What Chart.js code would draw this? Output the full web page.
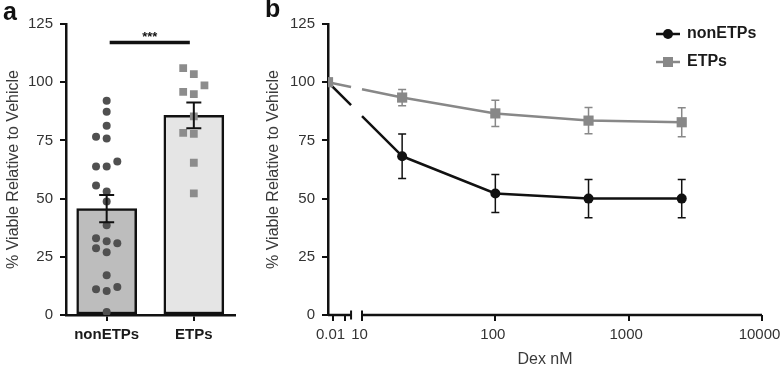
<!DOCTYPE html>
<html>
<head>
<meta charset="utf-8">
<script src="https://cdn.jsdelivr.net/npm/chart.js@4.4.1/dist/chart.umd.min.js"></script>
<style>
  html, body { margin: 0; padding: 0; background: #fff; }
  #wrap { position: relative; width: 781px; height: 370px; overflow: hidden;
          font-family: "Liberation Sans", Arial, Helvetica, sans-serif; }
  canvas { position: absolute; top: 0; }
  #panelA { left: 0; }
  #panelB { left: 240px; }
  .tag { position: absolute; font-weight: bold; font-size: 25px; line-height: 25px; color: #111; }
</style>
</head>
<body>
<div id="wrap">
  <canvas id="panelA" width="240" height="370"></canvas>
  <canvas id="panelB" width="541" height="370"></canvas>
  <div class="tag" style="left:3px;top:-1px">a</div>
  <div class="tag" style="left:265px;top:-4px">b</div>
</div>
<script>
// ---- panel a data: individual samples per group ----
var groups = ['nonETPs', 'ETPs'];
var nonEtpValues = [92, 87.3, 81.3, 76.6, 75.8, 65.9, 63.8, 63.8, 55.6, 53.1, 48.8,
                    38.5, 33, 31.7, 30.8, 28.7, 27, 17.1, 12, 11.1, 10.3, 1.3];
var etpValues = [106, 103.5, 98.6, 95.8, 94.9, 85.3, 78.2, 77.8, 65.4, 52.2];
var yTicks = [0, 25, 50, 75, 100, 125];
var sigLabel = '***';
var sigLevel = 117;

// ---- panel b data: dose response, mean and SEM ----
var doses = [0, 20, 100, 500, 2500];           // nM, 0 = vehicle
var nonEtpCurve = [100, 68.2, 52.2, 50, 50];
var nonEtpCurveSem = [0, 9.6, 8.2, 8.2, 8.2];
var etpCurve = [100, 93.4, 86.6, 83.5, 82.8];
var etpCurveSem = [0, 3.5, 5.6, 5.6, 6.2];
var doseTicks = [0.01, 0.1, 10, 100, 1000, 10000];
var doseTickLabels = ['0.01', '', '10', '100', '1000', '10000'];

// broken log axis: decades >= 10 are log10 units, the low part is squeezed before the break
var AXIS_MIN = 0.745, LOW_ORIGIN = 0.783, LOW_DECADE = 0.09;
var BREAK_FROM = 0.918, BREAK_TO = 1;

function axisPos(d) {
    if (d <= 0) return AXIS_MIN;
    if (d >= 10) return Math.log10(d);
    return LOW_ORIGIN + (Math.log10(d) + 2) * LOW_DECADE;
}

function mean(a) { return a.reduce(function(s, v) { return s + v; }, 0) / a.length; }
function sem(a) {
    var m = mean(a);
    var ss = a.reduce(function(s, v) { return s + (v - m) * (v - m); }, 0);
    return Math.sqrt(ss / (a.length - 1)) / Math.sqrt(a.length);
}

// simple column swarm so dots with close values sit side by side
function swarm(values, step) {
    var order = values.map(function(v, i) { return i; })
        .sort(function(a, b) { return values[a] - values[b]; });
    var cols = {}, out = [], tries = [0, -1, 1, -2, 2];
    order.forEach(function(i) {
        var v = values[i];
        var c = tries.find(function(k) {
            return !(cols[k] || []).some(function(u) { return Math.abs(u - v) < 3.9; });
        });
        (cols[c] = cols[c] || []).push(v);
        out[i] = c * step;
    });
    return out;
}

Chart.defaults.font.family = '"Liberation Sans", Arial, Helvetica, sans-serif';
Chart.defaults.font.size = 15;
Chart.defaults.color = '#333';
Chart.defaults.animation = false;
Chart.defaults.plugins.tooltip.enabled = false;

var errorBars = {
    id: 'errorBars',
    beforeDatasetsDraw: function(chart, args, opts) { if (opts.under) drawErrors(chart, opts); },
    afterDatasetsDraw: function(chart, args, opts) { if (!opts.under) drawErrors(chart, opts); }
};

function drawErrors(chart, opts) {
    var ctx = chart.ctx, y = chart.scales.y;
    chart.data.datasets.forEach(function(ds, di) {
        if (!ds.errorBars) return;
        var meta = chart.getDatasetMeta(di);
        meta.data.forEach(function(el, i) {
            var err = ds.errorBars[i];
            if (!err) return;
            var v = ds.data[i].y;
            var top = y.getPixelForValue(v + err), bot = y.getPixelForValue(v - err);
            ctx.save();
            ctx.strokeStyle = ds.errorColor;
            ctx.lineWidth = opts.width;
            ctx.beginPath();
            ctx.moveTo(el.x, top); ctx.lineTo(el.x, bot);
            ctx.moveTo(el.x - opts.cap, top); ctx.lineTo(el.x + opts.cap, top);
            ctx.moveTo(el.x - opts.cap, bot); ctx.lineTo(el.x + opts.cap, bot);
            ctx.stroke();
            ctx.restore();
        });
    });
}

var sigBar = {
    id: 'sigBar',
    afterDatasetsDraw: function(chart) {
        var ctx = chart.ctx, x = chart.scales.x, y = chart.scales.y;
        var yy = y.getPixelForValue(sigLevel);
        var x0 = x.getPixelForValue(0) + 3, x1 = x.getPixelForValue(1) - 4;
        ctx.save();
        ctx.strokeStyle = '#111';
        ctx.lineWidth = 3.5;
        ctx.beginPath(); ctx.moveTo(x0, yy); ctx.lineTo(x1, yy); ctx.stroke();
        ctx.fillStyle = '#111';
        ctx.font = 'bold 13px "Liberation Sans", Arial, sans-serif';
        ctx.textAlign = 'center';
        ctx.textBaseline = 'alphabetic';
        ctx.fillText(sigLabel, (x0 + x1) / 2, yy - 1.5);
        ctx.restore();
    }
};

function yAxis(width, titlePad) {
    return {
        min: 0, max: 125,
        afterBuildTicks: function(s) { s.ticks = yTicks.map(function(v) { return { value: v }; }); },
        ticks: { padding: 7, color: '#333', font: { size: 15 } },
        grid: { drawOnChartArea: false, tickLength: 6, color: '#111', lineWidth: 2 },
        border: { display: true, color: '#111', width: 2.5 },
        title: { display: true, text: '% Viable Relative to Vehicle', color: '#3a3a3a',
                 font: { size: 16 }, padding: { top: titlePad, bottom: 0 } },
        afterFit: function(s) { s.width = width; }
    };
}

// ---------------- panel a ----------------
var jitA = swarm(nonEtpValues, 0.122);
var jitB = swarm(etpValues, 0.122);
var groupValues = [nonEtpValues, etpValues];

new Chart(document.getElementById('panelA'), {
    type: 'bar',
    data: {
        datasets: [
            { type: 'scatter', label: groups[0], order: 1,
              data: nonEtpValues.map(function(v, i) { return { x: 0 + jitA[i], y: v }; }),
              pointStyle: 'circle', pointRadius: 4, backgroundColor: '#505050', borderWidth: 0 },
            { type: 'scatter', label: groups[1], order: 1,
              data: etpValues.map(function(v, i) { return { x: 1 + jitB[i], y: v }; }),
              pointStyle: 'rect', pointRadius: 5.5, backgroundColor: '#8c8c8c', borderWidth: 0 },
            { type: 'bar', label: 'mean', order: 2,
              data: groupValues.map(function(a, i) { return { x: i, y: mean(a) }; }),
              errorBars: groupValues.map(sem), errorColor: '#111',
              backgroundColor: ['#bdbdbd', '#e5e5e5'], borderColor: '#111',
              borderWidth: 2.5, borderSkipped: false, barThickness: 60 }
        ]
    },
    options: {
        responsive: false,
        events: [],
        layout: { padding: { top: 24, left: 0, right: 0, bottom: 0 } },
        plugins: { legend: { display: false }, errorBars: { under: false, cap: 7.5, width: 2 } },
        scales: {
            x: {
                type: 'linear', min: -0.4667, max: 1.4667, offset: false,
                afterBuildTicks: function(s) { s.ticks = groups.map(function(g, i) { return { value: i }; }); },
                ticks: { callback: function(v) { return groups[v]; }, font: { size: 15, weight: 'bold' },
                         color: '#1a1a1a', padding: 5, autoSkip: false, maxRotation: 0 },
                grid: { drawOnChartArea: false, offset: false, tickLength: 6, color: '#111', lineWidth: 2 },
                border: { display: true, color: '#111', width: 2.5 },
                afterFit: function(s) { s.height = 55; s.paddingLeft = 0; s.paddingRight = 0; }
            },
            y: yAxis(66, 4)
        }
    },
    plugins: [errorBars, sigBar]
});

// ---------------- panel b ----------------
function legendIcon(style, color) {
    var c = document.createElement('canvas');
    c.width = 24; c.height = 14;
    var g = c.getContext('2d');
    g.strokeStyle = color; g.fillStyle = color; g.lineWidth = 2.5;
    g.beginPath(); g.moveTo(0, 7); g.lineTo(24, 7); g.stroke();
    if (style === 'circle') { g.beginPath(); g.arc(12, 7, 5, 0, Math.PI * 2); g.fill(); }
    else { g.fillRect(7, 2, 10, 10); }
    return c;
}

// leave a gap in the first segment where the x axis is broken
function breakDash(ctx) {
    if (ctx.p0DataIndex !== 0) return undefined;
    var xs = ctx.chart.scales.x;
    var p0 = ctx.p0, p1 = ctx.p1;
    var dx = p1.x - p0.x, len = Math.hypot(dx, p1.y - p0.y);
    var f1 = (xs.getPixelForValue(BREAK_FROM) - p0.x) / dx;
    var f2 = (xs.getPixelForValue(BREAK_TO) - p0.x) / dx;
    return [f1 * len, (f2 - f1) * len, len * 2];
}

var brokenAxis = {
    id: 'brokenAxis',
    beforeDatasetsDraw: function(chart) {
        var ctx = chart.ctx, xs = chart.scales.x, a = chart.chartArea;
        var yy = a.bottom, xb0 = xs.getPixelForValue(BREAK_FROM), xb1 = xs.getPixelForValue(BREAK_TO);
        ctx.save();
        ctx.strokeStyle = '#111';
        ctx.lineWidth = 2.5;
        ctx.beginPath();
        ctx.moveTo(a.left, yy); ctx.lineTo(xb0, yy);
        ctx.moveTo(xb1, yy); ctx.lineTo(a.right, yy);
        ctx.stroke();
        ctx.lineWidth = 2;
        ctx.beginPath();
        ctx.moveTo(xb0, yy - 4.5); ctx.lineTo(xb0, yy + 4.5);
        ctx.moveTo(xb1, yy - 4.5); ctx.lineTo(xb1, yy + 4.5);
        ctx.stroke();
        ctx.restore();
    }
};

var legendPlace = {
    id: 'legendPlace',
    afterLayout: function(chart) {
        var lg = chart.legend, pad = lg.options.labels.padding, a = chart.chartArea;
        var w = lg.width, h = lg.height;
        lg.left = a.right - 105 - pad; lg.right = lg.left + w;
        lg.top = a.top + 2 - pad; lg.bottom = lg.top + h;
    }
};

var seriesB = [
    { label: 'nonETPs', values: nonEtpCurve, sem: nonEtpCurveSem, color: '#111', style: 'circle', radius: 5, order: 2 },
    { label: 'ETPs', values: etpCurve, sem: etpCurveSem, color: '#888', style: 'rect', radius: 7.2, order: 1 }
];
var icons = seriesB.map(function(s) { return legendIcon(s.style, s.color); });

new Chart(document.getElementById('panelB'), {
    type: 'scatter',
    data: {
        datasets: seriesB.map(function(s) {
            return {
                label: s.label, order: s.order,
                data: doses.map(function(d, i) { return { x: axisPos(d), y: s.values[i] }; }),
                errorBars: s.sem, errorColor: s.color,
                showLine: true, borderColor: s.color, backgroundColor: s.color, borderWidth: 2.5,
                pointStyle: s.style, pointRadius: s.radius, pointBorderWidth: 0,
                segment: { borderDash: breakDash }
            };
        })
    },
    options: {
        responsive: false,
        events: [],
        layout: { padding: { top: 24, left: 0, right: 19, bottom: 0 } },
        plugins: {
            errorBars: { under: true, cap: 4, width: 1.5 },
            legend: {
                position: 'chartArea', align: 'start',
                labels: {
                    usePointStyle: true, pointStyleWidth: 22, padding: 12,
                    font: { size: 16, weight: 'bold' }, color: '#1a1a1a',
                    generateLabels: function(chart) {
                        return chart.data.datasets.map(function(ds, i) {
                            return { text: ds.label, pointStyle: icons[i], fillStyle: ds.borderColor,
                                     strokeStyle: ds.borderColor, lineWidth: 0, hidden: false,
                                     datasetIndex: i, fontColor: '#1a1a1a' };
                        });
                    }
                }
            }
        },
        scales: {
            x: {
                type: 'linear', min: AXIS_MIN, max: 4, offset: false,
                afterBuildTicks: function(s) { s.ticks = doseTicks.map(function(d) { return { value: axisPos(d) }; }); },
                ticks: { callback: function(v, i) { return doseTickLabels[i]; }, color: '#333',
                         font: { size: 15 }, padding: 5, labelOffset: -2.5, autoSkip: false, maxRotation: 0 },
                grid: { drawOnChartArea: false, tickLength: 6, color: '#111', lineWidth: 2 },
                border: { display: false },
                title: { display: true, text: 'Dex nM', color: '#3a3a3a', font: { size: 16 },
                         padding: { top: 0, bottom: 1 } },
                afterFit: function(s) { s.height = 55; s.paddingLeft = 0; s.paddingRight = 0; }
            },
            y: yAxis(88, 24)
        }
    },
    plugins: [errorBars, brokenAxis, legendPlace]
});
</script>
</body>
</html>
